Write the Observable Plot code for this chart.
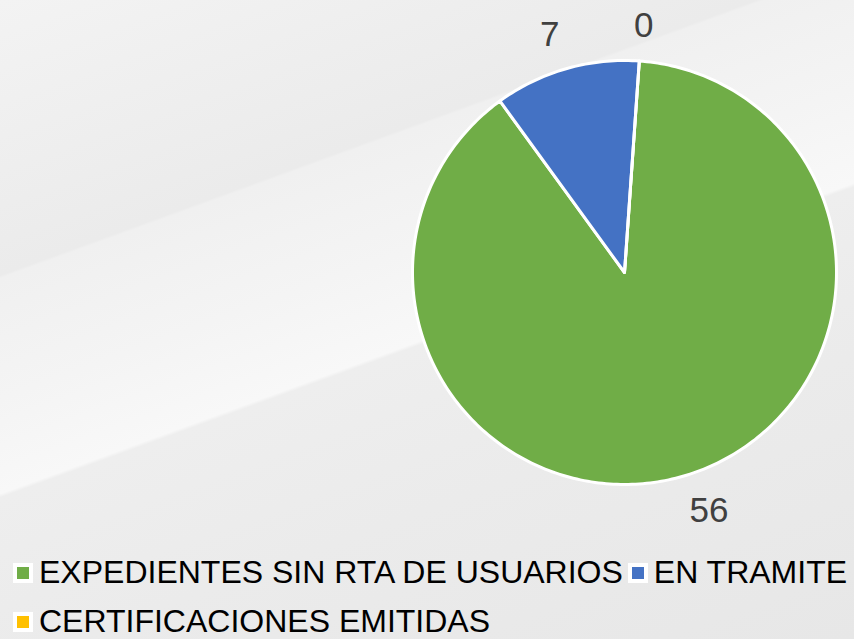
<!DOCTYPE html>
<html>
<head>
<meta charset="utf-8">
<script src="https://cdn.jsdelivr.net/npm/d3@7"></script>
<script src="https://cdn.jsdelivr.net/npm/@observablehq/plot@0.6"></script>
<style>
  html, body { margin: 0; padding: 0; }
  body {
    width: 854px; height: 639px; overflow: hidden;
    font-family: "Liberation Sans", Arial, sans-serif;
    background: linear-gradient(160deg,
      #f3f3f3 0%, #eeeeee 18%, #ebebeb 29%, #f0f0f0 29.3%,
      #f4f4f4 42%, #f8f8f8 52%, #eeeeee 52.4%, #ebebeb 70%, #e7e7e7 100%);
  }
  #chart svg { display: block; background: transparent; }
  #legend {
    display: flex; flex-wrap: wrap; width: 880px;
    padding-left: 13px; box-sizing: border-box;
    font-size: 32px; line-height: 49px; color: #000;
  }
  .item { display: flex; align-items: center; white-space: nowrap; margin-right: 5px; }
  .swatch { width: 12px; height: 12px; border: 4px solid #fff; margin-right: 6px; }
</style>
</head>
<body>
<div id="chart"></div>
<div id="legend"></div>
<script>
const categories = ["EXPEDIENTES SIN RTA DE USUARIOS", "EN TRAMITE", "CERTIFICACIONES EMITIDAS"];
const values = [56, 7, 0];
const colors = ["#70AD47", "#4472C4", "#FFC000"];

// layout settings
const W = 854, H = 548, CX = 624, CY = 272, R = 212;
const firstSliceAngle = 4 * Math.PI / 180;
const labelGap = 24;

const total = d3.sum(values);
let cum = 0;
const slices = categories.map((c, i) => {
  const start = firstSliceAngle + cum / total * 2 * Math.PI;
  cum += values[i];
  const end = firstSliceAngle + cum / total * 2 * Math.PI;
  return {cat: c, value: values[i], start, end};
});

const pts = [];
for (const s of slices) {
  pts.push({cat: s.cat, x: 0, y: 0});
  const n = Math.max(2, Math.ceil((s.end - s.start) / (2 * Math.PI) * 360));
  for (let k = 0; k <= n; k++) {
    const a = s.start + (s.end - s.start) * k / n;
    pts.push({cat: s.cat, x: Math.sin(a), y: Math.cos(a)});
  }
  pts.push({cat: s.cat, x: 0, y: 0});
}

// outside-end labels: anchor point just outside the rim, box pushed outward
const clamp = v => Math.max(-1, Math.min(1, v));
const labels = slices.map(s => {
  const a = (s.start + s.end) / 2;
  const txt = String(s.value);
  const w = 0.556 * 35 * txt.length, h = 25;
  const px = (R + labelGap) * Math.sin(a) + (w / 2) * clamp(Math.sin(a) * 4);
  const py = (R + labelGap) * Math.cos(a) + (h / 2) * clamp(Math.cos(a) * 4) * 0.9;
  return {text: txt, x: px / R, y: py / R};
});

const plot = Plot.plot({
  width: W, height: H,
  margin: 0,
  style: {background: "transparent", fontFamily: "'Liberation Sans', Arial, sans-serif"},
  x: {domain: [-CX / R, (W - CX) / R], axis: null},
  y: {domain: [-(H - CY) / R, CY / R], axis: null},
  color: {domain: categories, range: colors},
  marks: [
    Plot.line(pts, {x: "x", y: "y", z: "cat", fill: "cat", stroke: "#ffffff", strokeWidth: 3, strokeLinejoin: "round"}),
    Plot.text(labels, {x: "x", y: "y", text: "text", fontSize: 35, fill: "#404040"})
  ]
});
document.getElementById("chart").appendChild(plot);

const legend = document.getElementById("legend");
categories.forEach((c, i) => {
  const item = document.createElement("div");
  item.className = "item";
  const sw = document.createElement("span");
  sw.className = "swatch";
  sw.style.background = colors[i];
  const t = document.createElement("span");
  t.textContent = c;
  item.appendChild(sw);
  item.appendChild(t);
  legend.appendChild(item);
});
</script>
</body>
</html>
